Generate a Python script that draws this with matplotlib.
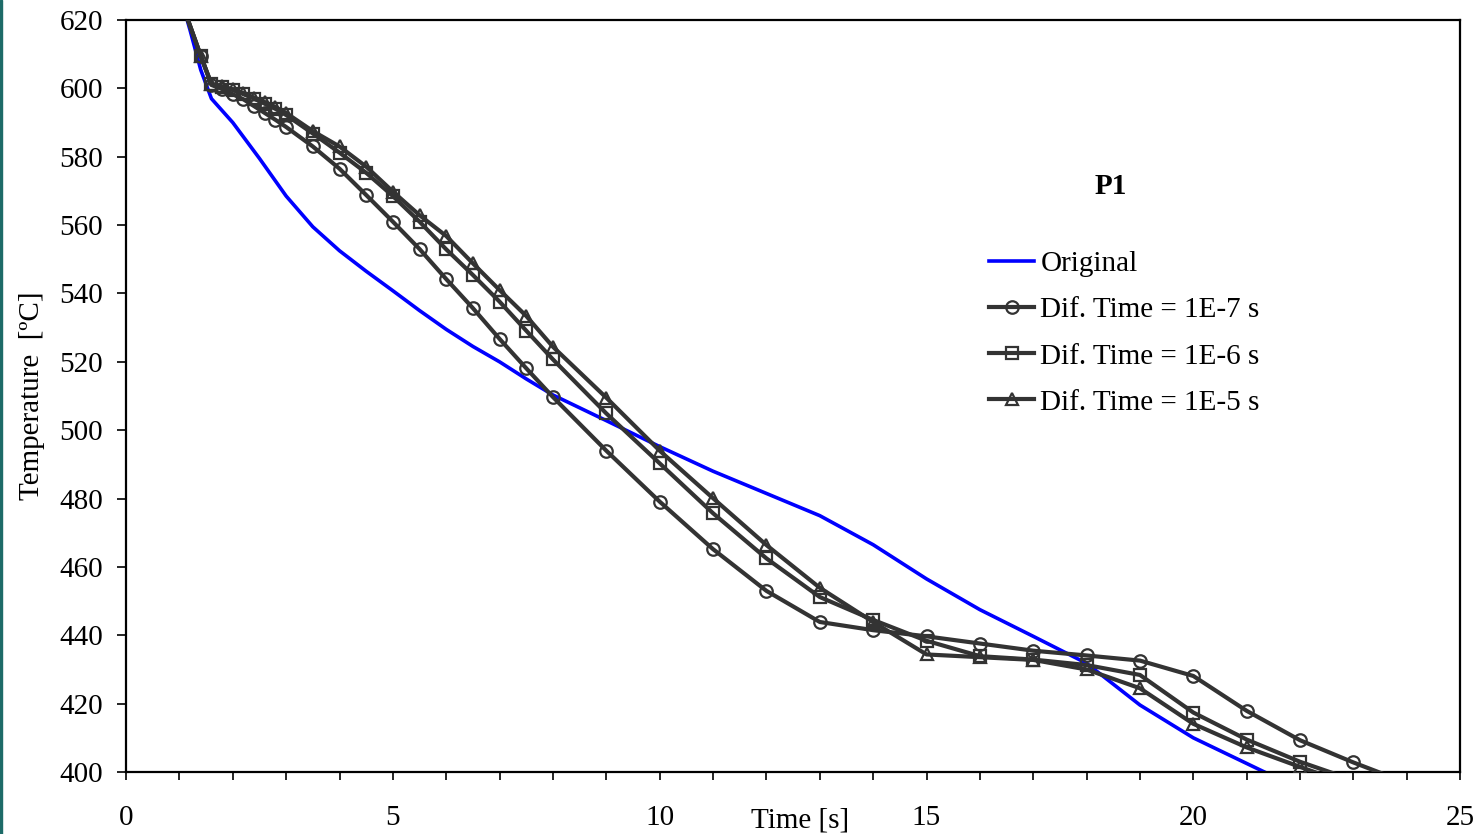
import matplotlib.pyplot as plt
from matplotlib.patches import Rectangle

# Curva original (tiempo en s, temperatura en ºC)
t_orig = [1.0, 1.2, 1.4, 1.6, 1.8, 2.0, 2.5, 3.0, 3.5, 4.0, 4.5, 5.0, 5.5, 6.0,
          6.5, 7.0, 7.5, 8.0, 9, 10, 11, 12, 13, 14, 15, 16, 17, 18, 19, 20,
          21, 22]
T_orig = [628, 617, 605.4, 597, 593.5, 590, 579.5, 568.5, 559.5, 552.5, 546.5,
          540.8, 535, 529.5, 524.5, 520, 515, 510.3, 502.8, 495.2, 488, 481.5,
          475, 466.5, 456.5, 447.5, 439.7, 431.8, 419.6, 410, 402.5, 395]

# Tiempos de las curvas con distinto paso
t_dif = [1.0, 1.4, 1.6, 1.8, 2.0, 2.2, 2.4, 2.6, 2.8, 3.0, 3.5, 4.0, 4.5, 5.0,
         5.5, 6.0, 6.5, 7.0, 7.5, 8.0, 9, 10, 11, 12, 13, 14, 15, 16, 17, 18,
         19, 20, 21, 22, 23, 24]
T_1e7 = [627, 609.5, 601, 599.8, 598.3, 596.8, 594.8, 592.8, 590.8, 588.7, 583,
         576.5, 568.8, 561, 553, 544.2, 535.7, 526.7, 518.1, 509.7, 494, 479.1,
         465.2, 453, 443.9, 441.5, 439.7, 437.6, 435.5, 434.1, 432.6, 428.1,
         417.9, 409.3, 402.8, 396.8]
T_1e6 = [627, 609.5, 601.2, 600.5, 599.5, 598.3, 597, 595.5, 594, 592.2, 586.8,
         581.2, 575.3, 568.5, 561, 552.9, 545.4, 537.6, 529.1, 520.7, 504.9,
         490.3, 475.7, 462.5, 451.2, 444.5, 438.4, 433.9, 432.9, 431.3, 428.4,
         417.4, 409.5, 403.0, 397.6, 392.5]
T_1e5 = [627, 609.5, 601.3, 600.6, 599.7, 598.6, 597.3, 596, 594.5, 592.8, 587.5,
         583, 577.1, 569.8, 562.9, 556.8, 548.8, 541, 533.4, 524.4, 509.5, 494,
         480.1, 466.4, 453.9, 443.9, 434.4, 433.6, 432.8, 430, 424.5, 414.1,
         407.2, 401.5, 396, 390.5]

plt.rcParams['font.family'] = ['Liberation Serif', 'DejaVu Serif']
fs = 21

fig = plt.figure(figsize=(14.83, 8.34), dpi=100)
ax = fig.add_axes([0.0850, 0.0743, 0.8996, 0.9017])

# franja verde del borde izquierdo
fig.patches.append(Rectangle((0, 0), 0.0016, 1, transform=fig.transFigure,
                             color='#1d6b68', zorder=10))

gris = '#333333'
ax.plot(t_orig, T_orig, color='#0000ff', lw=2.6, label='Original', zorder=2)
ax.plot(t_dif, T_1e7, color=gris, lw=3.0, marker='o', ms=9, mfc='none',
        mec=gris, mew=1.6, label='Dif. Time = 1E-7 s', zorder=3)
ax.plot(t_dif, T_1e6, color=gris, lw=3.0, marker='s', ms=9, mfc='none',
        mec=gris, mew=1.6, label='Dif. Time = 1E-6 s', zorder=3)
ax.plot(t_dif, T_1e5, color=gris, lw=3.0, marker='^', ms=9, mfc='none',
        mec=gris, mew=1.6, label='Dif. Time = 1E-5 s', zorder=3)

ax.set_xlim(0, 25)
ax.set_ylim(400, 620)
ax.set_xticks(range(0, 26, 5))
ax.set_xticks(range(0, 26), minor=True)
ax.set_yticks(range(400, 621, 20))
ax.tick_params(axis='x', which='both', direction='out', length=6, width=1.2,
               pad=18, labelsize=fs)
ax.tick_params(axis='y', direction='out', length=6.5, width=1.2, pad=10,
               labelsize=fs)
for s in ax.spines.values():
    s.set_linewidth(1.6)

ax.set_xlabel('Time [s]', fontsize=fs, va='center')
ax.xaxis.set_label_coords(0.505, -0.064)
ax.set_ylabel('Temperature  [ºC]', fontsize=fs, va='center')
ax.yaxis.set_label_coords(-0.0705, 0.5)

ax.text(0.738, 0.778, 'P1', transform=ax.transAxes, fontsize=fs,
        fontweight='bold', ha='center', va='center')
ax.legend(loc='upper left', bbox_to_anchor=(0.647, 0.693), frameon=False,
          fontsize=fs, handlelength=1.55, handletextpad=0.2,
          labelspacing=0.675, borderpad=0, borderaxespad=0)

plt.savefig('out.png')
